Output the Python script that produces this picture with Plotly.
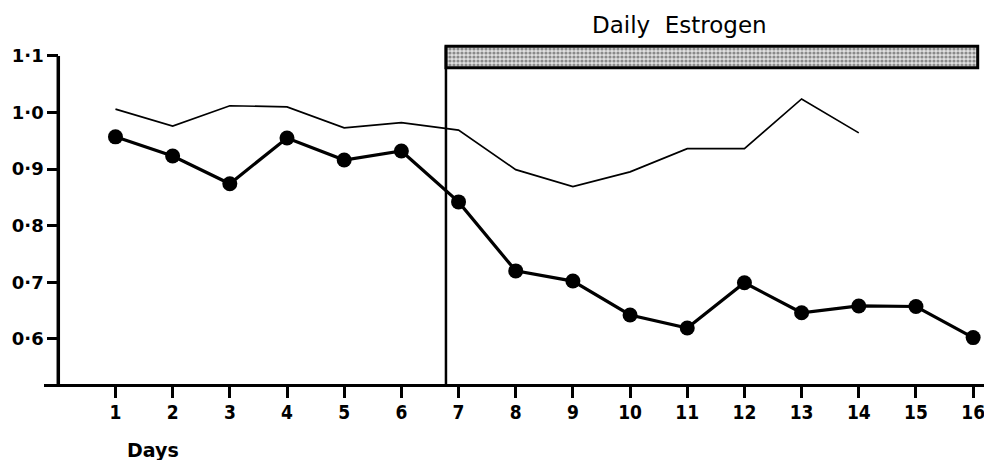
import plotly.graph_objects as go

days = list(range(1, 17))
treated = [0.957, 0.923, 0.874, 0.955, 0.916, 0.932, 0.842, 0.720,
           0.702, 0.642, 0.619, 0.699, 0.646, 0.658, 0.657, 0.602]
ref_days = list(range(1, 15))
reference = [1.006, 0.976, 1.012, 1.010, 0.973, 0.982, 0.969, 0.899,
             0.869, 0.895, 0.936, 0.936, 1.024, 0.964]
y_ticks = [0.6, 0.7, 0.8, 0.9, 1.0, 1.1]
y_tick_labels = ["0·6", "0·7", "0·8", "0·9", "1·0", "1·1"]
x_tick_labels = [str(d) for d in days]
estrogen_start = 6.78
estrogen_end = 16.08
bar_low, bar_high = 1.079, 1.117
y_bottom = 0.52

fig = go.Figure()

# Estrogen bar (stippled)
fig.add_trace(go.Bar(
    x=[estrogen_end - estrogen_start], y=[(bar_low + bar_high) / 2],
    base=[estrogen_start], width=[bar_high - bar_low], orientation="h",
    marker=dict(color="#bbbbbb", line=dict(color="black", width=3),
                pattern=dict(shape=".", size=4, solidity=0.5,
                             fgcolor="#333333", bgcolor="#e0e0e0")),
    showlegend=False, hoverinfo="skip"))

fig.add_trace(go.Scatter(
    x=ref_days, y=reference, mode="lines",
    line=dict(color="black", width=1.7), showlegend=False))

fig.add_trace(go.Scatter(
    x=days, y=treated, mode="lines+markers",
    line=dict(color="black", width=3.2),
    marker=dict(color="black", size=15), showlegend=False))

# y axis line up to 1.1
fig.add_shape(type="line", xref="x", yref="y", x0=0, x1=0,
              y0=y_bottom, y1=1.1, line=dict(color="black", width=3.5))
# estrogen start vertical line
fig.add_shape(type="line", xref="x", yref="y", x0=estrogen_start,
              x1=estrogen_start, y0=y_bottom, y1=bar_high,
              line=dict(color="black", width=2.5))

fig.add_annotation(text="Daily  Estrogen", xref="x", yref="paper",
                   x=10.87, y=1.0, yshift=-1, yanchor="bottom",
                   showarrow=False,
                   font=dict(family="DejaVu Sans", size=23, color="black"))
fig.add_annotation(text="<b>Days</b>", xref="x", yref="paper",
                   x=1.66, y=0, yshift=-66, yanchor="middle",
                   showarrow=False,
                   font=dict(family="DejaVu Sans", size=19, color="black"))

fig.update_layout(
    width=984, height=460,
    margin=dict(l=44, r=0, t=39, b=76),
    paper_bgcolor="white", plot_bgcolor="white",
    font=dict(family="DejaVu Sans", color="black", size=15),
    xaxis=dict(range=[-0.25, 16.19], tickmode="array", tickvals=days,
               ticktext=["<b>%s</b>" % t for t in x_tick_labels],
               tickfont=dict(family="DejaVu Sans Condensed", size=19),
               ticklabeloverflow="allow",
               showline=True, linecolor="black", linewidth=3,
               ticks="outside", ticklen=11, tickwidth=2.5, tickcolor="black",
               ticklabelstandoff=-2,
               showgrid=False, zeroline=False, fixedrange=True),
    yaxis=dict(range=[y_bottom, 1.13], tickmode="array", tickvals=y_ticks,
               ticktext=["<b>%s</b>" % t for t in y_tick_labels],
               tickfont=dict(family="DejaVu Sans", size=18),
               anchor="free", position=0.25 / 16.44,
               showline=False, ticks="outside", ticklen=11, tickwidth=2.5,
               tickcolor="black", showgrid=False, zeroline=False,
               fixedrange=True),
)

fig.write_html("out.html", config={"displayModeBar": False},
               post_script="document.body.style.margin='0';"
                           "document.body.style.overflow='hidden';")
